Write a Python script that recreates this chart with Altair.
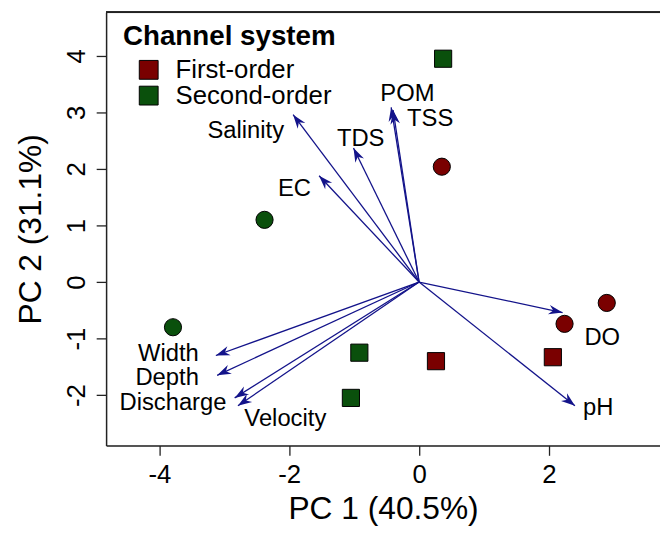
import math
import altair as alt
import pandas as pd

# ---- data ----
pc1 = [0.37, 0.35, -2.38, -3.79, -0.92, -1.05, 0.26, 2.06, 2.24, 2.89]
pc2 = [3.95, 2.04, 1.10, -0.80, -1.25, -2.05, -1.40, -1.33, -0.74, -0.37]
channel = ["Second-order", "First-order", "Second-order", "Second-order", "Second-order",
           "Second-order", "First-order", "First-order", "First-order", "First-order"]
marker = ["square", "circle", "circle", "circle", "square",
          "square", "square", "square", "circle", "circle"]

variables = ["Salinity", "TDS", "POM", "TSS", "EC", "DO", "pH",
             "Width", "Depth", "Discharge", "Velocity"]
load_x = [-1.94, -1.01, -0.43, -0.40, -1.54, 2.21, 2.40, -3.13, -3.11, -2.84, -2.79]
load_y = [2.96, 2.37, 3.09, 3.04, 1.88, -0.54, -2.19, -1.30, -1.65, -2.05, -2.19]
label_x = [-2.67, -0.90, -0.18, 0.17, -1.92, 2.82, 2.76, -3.86, -3.88, -3.79, -2.06]
label_y = [2.67, 2.53, 3.32, 2.89, 1.65, -1.00, -2.23, -1.27, -1.70, -2.15, -2.42]

x_ticks = [-4, -2, 0, 2]
y_ticks = [-2, -1, 0, 1, 2, 3, 4]

# ---- layout ----
W, H = 559, 437
XDOM = [-4.82, 3.71]
YDOM = [-2.89, 4.77]
FONT = "Liberation Sans"
ARROW = "#13138a"

px_x = W / (XDOM[1] - XDOM[0])
px_y = H / (YDOM[1] - YDOM[0])

scores = pd.DataFrame({"PC1": pc1, "PC2": pc2, "Channel": channel, "Marker": marker})
loads = pd.DataFrame({"var": variables, "x0": 0.0, "y0": 0.0, "lx": load_x, "ly": load_y,
                      "tx": label_x, "ty": label_y})
loads["ang"] = [(math.degrees(math.atan2(a * px_x, b * px_y)) + 360) % 360
                for a, b in zip(load_x, load_y)]

xs = alt.Scale(domain=XDOM, nice=False, zero=False)
ys = alt.Scale(domain=YDOM, nice=False, zero=False)

x_axis = alt.Axis(values=x_ticks, title="PC 1 (40.5%)", grid=False, tickSize=10,
                  labelExpr="datum.value + ''",
                  labelFontSize=26, titleFontSize=32, labelPadding=6, titlePadding=7,
                  titleFontWeight="normal", labelFont=FONT, titleFont=FONT,
                  domainColor="#222", tickColor="#222", domainWidth=1.5, tickWidth=1.3,
                  labelColor="black", titleColor="black")
y_axis = alt.Axis(values=y_ticks, title="PC 2 (31.1%)", grid=False, tickSize=10,
                  labelExpr="datum.value + ''",
                  labelFontSize=26, titleFontSize=32, labelPadding=7, titlePadding=16,
                  labelAngle=270, labelAlign="center", labelBaseline="bottom",
                  titleFontWeight="normal", labelFont=FONT, titleFont=FONT,
                  domainColor="#222", tickColor="#222", domainWidth=1.5, tickWidth=1.3,
                  labelColor="black", titleColor="black")

top_line = alt.Chart(scores).mark_rule(color="#222", strokeWidth=1.5).encode(
    y=alt.value(0)
)

points = alt.Chart(scores).mark_point(filled=True, size=300, stroke="black",
                                      strokeWidth=1, opacity=1).encode(
    x=alt.X("PC1:Q", scale=xs, axis=x_axis),
    y=alt.Y("PC2:Q", scale=ys, axis=y_axis),
    color=alt.Color("Channel:N",
                    scale=alt.Scale(domain=["First-order", "Second-order"],
                                    range=["#7a0000", "#0a500c"]),
                    legend=alt.Legend(orient="none", legendX=17, legendY=11,
                                      title="Channel system", titleFontSize=28,
                                      titleFont=FONT, titleFontWeight="bold",
                                      titleColor="black", labelColor="black",
                                      titleLimit=0, labelLimit=0,
                                      labelFontSize=26, labelFont=FONT,
                                      symbolType="square", symbolSize=361,
                                      symbolStrokeColor="black", symbolStrokeWidth=1,
                                      symbolOffset=13, labelOffset=14,
                                      rowPadding=0, titlePadding=6)),
    shape=alt.Shape("Marker:N",
                    scale=alt.Scale(domain=["circle", "square"], range=["circle", "square"]),
                    legend=None),
)

lines = alt.Chart(loads).mark_rule(color=ARROW, strokeWidth=1.3).encode(
    x=alt.X("x0:Q", scale=xs), y=alt.Y("y0:Q", scale=ys),
    x2="lx:Q", y2="ly:Q",
)

heads = alt.Chart(loads).mark_point(
    shape="M0,0L-0.6,1.75L0,1.2L0.6,1.75Z", filled=True, size=260,
    color=ARROW, opacity=1, strokeWidth=0,
).encode(
    x=alt.X("lx:Q", scale=xs), y=alt.Y("ly:Q", scale=ys),
    angle=alt.Angle("ang:Q", scale=None),
)

labels = alt.Chart(loads).mark_text(fontSize=24, font=FONT, color="black",
                                    align="center", baseline="middle").encode(
    x=alt.X("tx:Q", scale=xs), y=alt.Y("ty:Q", scale=ys), text="var:N",
)

chart = alt.layer(top_line, points, lines, heads, labels).properties(
    width=W, height=H,
    autosize="none",
    padding={"left": 99, "top": 2, "right": 0, "bottom": 86},
).configure_view(stroke=None).configure(background="white")

chart.save("out.html", embed_options={"renderer": "svg", "actions": False})
